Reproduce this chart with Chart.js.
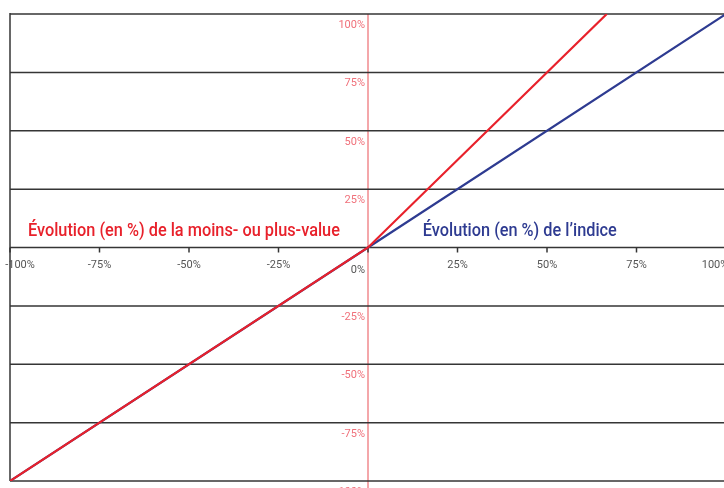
<!DOCTYPE html>
<html>
<head>
<meta charset="utf-8">
<script src="https://cdn.jsdelivr.net/npm/chart.js@4.4.1/dist/chart.umd.min.js"></script>
<style>
  html, body { margin: 0; padding: 0; background: #fff; overflow: hidden; width: 724px; height: 488px; }
  #wrap { width: 736px; height: 488px; }
</style>
</head>
<body>
<div id="wrap"><canvas id="c" width="736" height="488"></canvas></div>
<script>
// Series: index evolution (blue) and gain/loss evolution (red)
const indexX = [-1, 0, 1];
const indexY = [-1, 0, 1];
const pnlX = [-1, 0, 0.667];
const pnlY = [-1, 0, 1];

// Tick values and labels
const xTicks = [-1, -0.75, -0.5, -0.25, 0, 0.25, 0.5, 0.75, 1];
const xTickLabels = ['-100%', '-75%', '-50%', '-25%', '', '25%', '50%', '75%', '100%'];
const yTicks = [1, 0.75, 0.5, 0.25, 0, -0.25, -0.5, -0.75, -1];
const yTickLabels = ['100%', '75%', '50%', '25%', '0%', '-25%', '-50%', '-75%', '-100%'];

// Annotation texts
const labelPnl = 'Évolution (en %) de la moins- ou plus-value';
const labelIndex = 'Évolution (en %) de l’indice';

const RED = '#e8212b';
const BLUE = '#2e3b91';
const PINK = '#f08a8e';
const GRID = '#353535';
const TICKTXT = '#555555';
const YTXT = '#f0707a';

function toPts(xs, ys) { return xs.map((x, i) => ({ x: x, y: ys[i] })); }

const decor = {
  id: 'decor',
  beforeDatasetsDraw(chart) {
    const { ctx, chartArea: a, scales: { x, y } } = chart;
    ctx.save();
    // pink vertical axis at x = 0
    const x0 = x.getPixelForValue(0);
    ctx.strokeStyle = PINK;
    ctx.lineWidth = 1.5;
    ctx.beginPath();
    ctx.moveTo(x0, a.top);
    ctx.lineTo(x0, chart.height);
    ctx.stroke();
    // horizontal gridlines
    ctx.strokeStyle = GRID;
    ctx.lineWidth = 1.5;
    yTicks.forEach(v => {
      const py = y.getPixelForValue(v);
      ctx.beginPath();
      ctx.moveTo(a.left, py);
      ctx.lineTo(a.right, py);
      ctx.stroke();
    });
    // left border
    const xl = x.getPixelForValue(-1);
    ctx.beginPath();
    ctx.moveTo(xl, a.top - 1);
    ctx.lineTo(xl, a.bottom);
    ctx.stroke();
    // x tick marks
    const yz = y.getPixelForValue(0);
    xTicks.forEach(v => {
      const px = x.getPixelForValue(v);
      ctx.beginPath();
      ctx.moveTo(px, yz);
      ctx.lineTo(px, yz + 5);
      ctx.stroke();
    });
    ctx.restore();
  },
  afterDatasetsDraw(chart) {
    const { ctx, scales: { x, y } } = chart;
    ctx.save();
    const x0 = x.getPixelForValue(0);
    const yz = y.getPixelForValue(0);
    // x tick labels
    ctx.font = '11px Roboto, "Liberation Sans", sans-serif';
    ctx.fillStyle = TICKTXT;
    ctx.textBaseline = 'alphabetic';
    ctx.textAlign = 'center';
    xTicks.forEach((v, i) => {
      if (!xTickLabels[i]) return;
      let px = x.getPixelForValue(v);
      if (i === 0) px += 10;
      if (i === xTicks.length - 1) px -= 11;
      ctx.fillText(xTickLabels[i], px, yz + 20);
    });
    // y tick labels
    ctx.textAlign = 'right';
    yTicks.forEach((v, i) => {
      const py = y.getPixelForValue(v);
      if (v === 0) {
        ctx.fillStyle = TICKTXT;
        ctx.fillText(yTickLabels[i], x0 - 3, py + 25);
      } else {
        ctx.fillStyle = YTXT;
        ctx.fillText(yTickLabels[i], x0 - 3, py + 14);
      }
    });
    // annotations
    const drawFit = (text, color, leftPx, baseline, width) => {
      ctx.font = '500 18px Roboto, "Noto Sans", sans-serif';
      const w = ctx.measureText(text).width;
      ctx.save();
      ctx.translate(leftPx, baseline);
      ctx.scale(width / w, 1);
      ctx.fillStyle = color;
      ctx.textAlign = 'left';
      ctx.fillText(text, 0, 0);
      ctx.restore();
    };
    drawFit(labelPnl, RED, x.getPixelForValue(-0.95), yz - 12, 312);
    drawFit(labelIndex, BLUE, x.getPixelForValue(0.153), yz - 12, 194);
    ctx.restore();
  }
};

new Chart(document.getElementById('c'), {
  type: 'scatter',
  data: {
    datasets: [
      {
        label: 'Moins- ou plus-value',
        data: toPts(pnlX, pnlY),
        showLine: true,
        borderColor: RED,
        backgroundColor: RED,
        borderWidth: 2.2,
        pointRadius: 0,
        tension: 0
      },
      {
        label: 'Indice',
        data: toPts(indexX, indexY),
        showLine: true,
        borderColor: BLUE,
        backgroundColor: BLUE,
        borderWidth: 2.2,
        pointRadius: 0,
        tension: 0
      }
    ]
  },
  options: {
    responsive: false,
    animation: false,
    devicePixelRatio: 1,
    layout: { padding: { left: 10, right: 10, top: 14, bottom: 7 } },
    plugins: { legend: { display: false }, tooltip: { enabled: false } },
    scales: {
      x: { type: 'linear', min: -1, max: 1, display: false },
      y: { type: 'linear', min: -1, max: 1, display: false }
    }
  },
  plugins: [decor]
});
</script>
</body>
</html>
